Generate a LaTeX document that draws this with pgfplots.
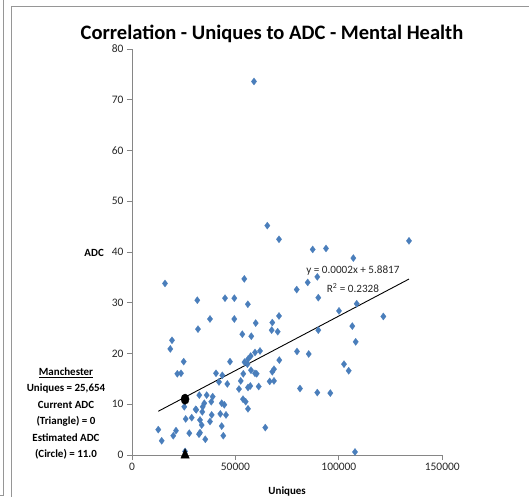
\documentclass[border=0pt]{standalone}
\usepackage{pgfplots}
\pgfplotsset{compat=1.18}
\usepackage{fontspec}
\setmainfont{Carlito}
\definecolor{ptblue}{RGB}{74,126,187}
\definecolor{axgray}{RGB}{134,134,134}
\definecolor{bordergray}{RGB}{150,150,150}
\begin{document}
\begin{tikzpicture}
\useasboundingbox (-132bp,-42bp) rectangle (397bp,455bp);
\draw[bordergray, line width=0.8bp] (-121bp,-42bp) -- (-121bp,449bp) -- (397bp,449bp);
\draw[bordergray, line width=0.8bp] (-129bp,455bp) -- (-129bp,-40bp) -- (-132bp,-40bp);
\begin{axis}[
 at={(0,0)}, anchor=south west, scale only axis, width=310.3bp, height=406bp,
 xmin=0, xmax=150000, ymin=0, ymax=80,
 axis lines=left, axis line style={-, draw=axgray, line width=0.8bp},
 xtick={0,50000,100000,150000}, ytick={0,10,...,80},
 tick align=outside, major tick length=5bp, tick style={axgray, line width=0.8bp},
 scaled x ticks=false,
 x tick label style={/pgf/number format/fixed, /pgf/number format/1000 sep={}},
 ticklabel style={font=\fontsize{11.5}{13}\selectfont, text=black!85},
 /pgf/number format/assume math mode=true,
 clip=false,
]
\addplot[only marks, mark=diamond*, mark size=3.6bp, mark options={fill=ptblue, draw=ptblue, line width=0.2bp}] coordinates {
(58970,73.6) (65410,45.2) (71060,42.5) (87350,40.5) (93780,40.7) (107000,38.8)
(133900,42.2) (54290,34.7) (84930,34.0) (89580,35.1) (79620,32.6) (90060,31.0)
(100060,28.4) (108620,29.8) (121500,27.3) (106490,25.4) (108130,22.3) (102480,17.9)
(104750,16.6) (95860,12.2) (107800,0.6) (89580,12.3) (81210,13.1) (90060,24.6)
(79760,20.4) (85420,19.9) (71060,27.4) (67820,26.1) (59800,26.0) (67520,24.6)
(70420,24.3) (53320,23.8) (57670,23.4) (56000,29.7) (44960,30.9) (49460,30.9)
(31570,30.5) (15950,33.8) (37700,26.8) (49460,26.8) (31900,24.8) (19340,22.6)
(18520,20.9) (59460,20.2) (61880,20.5) (57380,19.5) (71200,18.7) (24990,18.4)
(47370,18.4) (54400,18.3) (56100,18.9) (55800,17.9) (21900,16.0) (23690,16.1)
(40600,16.1) (43650,15.7) (57520,16.7) (59460,16.1) (60280,16.0) (53800,16.0)
(52550,14.6) (42060,14.4) (46070,14.0) (67820,16.4) (68640,16.9) (66560,14.5)
(68640,14.6) (51720,13.0) (56070,13.3) (57190,13.6) (61240,13.5) (53660,11.0)
(54960,10.5) (56070,9.1) (64440,5.4) (32540,11.8) (36100,11.8) (39000,11.5)
(34950,10.2) (38330,10.5) (43360,10.2) (44630,9.9) (25280,9.5) (30790,9.0)
(34170,9.5) (33980,8.5) (31080,8.9) (38530,7.9) (42700,8.1) (45440,7.9)
(25950,7.1) (28860,7.35) (32870,6.9) (37700,6.6) (33690,5.9) (43360,5.7)
(12710,5.0) (21270,4.8) (19960,3.8) (27700,4.3) (32870,4.4) (32390,4.1)
(35430,3.1) (44140,3.8) (14360,2.8) (25654,0.7)
};
\addplot[black, line width=0.9bp, no marks] coordinates {(12710,8.62) (133900,34.67)};
\addplot[only marks, mark=*, mark size=5.2bp, mark options={xscale=0.78, fill=black, draw=black}] coordinates {(25654,11.0)};
\addplot[only marks, mark=triangle*, mark size=6.2bp, mark options={xscale=0.78, fill=black, draw=black}] coordinates {(25654,0)};
\node[font=\fontsize{11.2}{13}\selectfont, text=black!85, anchor=center] at (axis cs:106780,36.26) {y = 0.0002x + 5.8817};
\node[font=\fontsize{11.2}{13}\selectfont, text=black!85, anchor=center] at (axis cs:106780,32.97) {R\textsuperscript{2} = 0.2328};
\node[font=\bfseries\fontsize{20.6}{22}\selectfont, anchor=center] at (axis description cs:0.4512,1.0375) {Correlation - Uniques to ADC - Mental Health};
\node[font=\bfseries\fontsize{11}{13}\selectfont, anchor=center] at (axis description cs:-0.122,0.4975) {ADC};
\node[font=\bfseries\fontsize{11}{13}\selectfont, anchor=center] at (axis description cs:0.5,-0.0911) {Uniques};
\node[font=\bfseries\fontsize{11}{16.5}\selectfont, align=center, anchor=center] at (axis description cs:-0.2127,0.102) {\underline{Manchester}\\Uniques = 25,654\\Current ADC\\(Triangle) = 0\\Estimated ADC\\(Circle) = 11.0};
\end{axis}
\end{tikzpicture}
\end{document}
